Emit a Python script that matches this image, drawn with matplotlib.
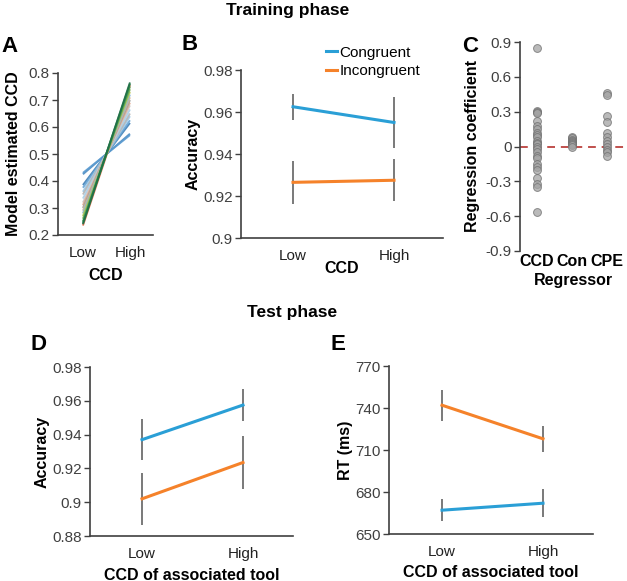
import numpy as np
import matplotlib
matplotlib.use("Agg")
import matplotlib.pyplot as plt

plt.rcParams["font.family"] = ["Liberation Sans", "DejaVu Sans"]
plt.rcParams["axes.unicode_minus"] = False

W, H = 627, 581

# ---------------- data ----------------
ccd_levels = ["Low", "High"]

# A: model estimated CCD per participant (low, high)
a_low = [0.425, 0.43, 0.385, 0.375, 0.36, 0.35, 0.335, 0.32, 0.31, 0.30, 0.29,
         0.28, 0.235, 0.27, 0.26, 0.25, 0.245, 0.24]
a_high = [0.575, 0.57, 0.615, 0.625, 0.64, 0.65, 0.665, 0.68, 0.69, 0.70, 0.71,
          0.72, 0.755, 0.73, 0.74, 0.75, 0.76, 0.765]
a_colors = ["#4f8cc0", "#5b9bd0", "#3f7fb5", "#6aa6d6", "#9cc8e6", "#b5b5b5",
            "#a9cfe8", "#c9c9c9", "#e3a98f", "#9f9f9f", "#d8b48e", "#86b6dc",
            "#e06a4a", "#bcc95c", "#7db25a", "#4fa14a", "#2f8a5a", "#1f6f45"]

# B: training accuracy
b_cong = [0.9625, 0.955]
b_cong_err = [0.0063, 0.012]
b_incong = [0.9265, 0.9275]
b_incong_err = [0.0103, 0.0101]

# C: regression coefficients
c_regressors = ["CCD", "Con", "CPE"]
c_ccd = [0.85, 0.31, 0.30, 0.29, 0.22, 0.18, 0.15, 0.12, 0.10, 0.08, 0.05, 0.03,
         0.02, 0.0, -0.02, -0.05, -0.08, -0.10, -0.15, -0.18, -0.20, -0.27,
         -0.32, -0.35, -0.56]
c_con = [0.08, 0.07, 0.06, 0.05, 0.04, 0.03, 0.02, 0.01, 0.0]
c_cpe = [0.46, 0.44, 0.26, 0.21, 0.12, 0.08, 0.05, 0.02, 0.0, -0.03, -0.05, -0.08]

# D: test accuracy
d_cong = [0.937, 0.9575]
d_cong_err = [0.012, 0.0095]
d_incong = [0.902, 0.9235]
d_incong_err = [0.0152, 0.0155]

# E: test RT
e_cong = [667, 672]
e_cong_err = [8, 10]
e_incong = [742, 718]
e_incong_err = [11, 9.5]

BLUE = "#2a9fd6"
ORANGE = "#f5822a"
ERR = "#555555"
SPINE = "#404040"
TICK = "#404040"

fig = plt.figure(figsize=(W / 100, H / 100), dpi=100)


def add_ax(left, top, right, bottom):
    return fig.add_axes([left / W, 1 - bottom / H, (right - left) / W, (bottom - top) / H])


def style(ax, yticks, xpad, ylabel, xlabel, ylab_x, xlab_y, fmt="%g"):
    for s in ["top", "right"]:
        ax.spines[s].set_visible(False)
    for s in ["left", "bottom"]:
        ax.spines[s].set_color(SPINE)
        ax.spines[s].set_linewidth(1.2)
    ax.set_yticks(yticks)
    ax.set_yticklabels([fmt % v for v in yticks])
    ax.tick_params(axis="y", length=4, width=1.0, color=SPINE, labelsize=11,
                   labelcolor=TICK, pad=2, direction="out")
    ax.tick_params(axis="x", length=0, labelsize=11, labelcolor="#222222", pad=xpad)
    ax.set_ylabel(ylabel, fontsize=11.5, fontweight="bold", va="center")
    ax.yaxis.set_label_coords(ylab_x, 0.5)
    ax.set_xlabel(xlabel, fontsize=11.5, fontweight="bold", va="center")
    ax.xaxis.set_label_coords(0.5, xlab_y)


x = np.arange(len(ccd_levels))

# ---- A ----
axA = add_ax(58, 73, 153, 235)
for lo, hi, col in zip(a_low, a_high, a_colors):
    axA.plot(x, [lo, hi], color=col, lw=1.4, alpha=0.9, solid_capstyle="butt")
axA.set_xlim(-0.53, 1.49)
axA.set_ylim(0.2, 0.8)
axA.set_xticks(x)
axA.set_xticklabels(ccd_levels)
style(axA, [0.2, 0.3, 0.4, 0.5, 0.6, 0.7, 0.8], 8, "Model estimated CCD", "CCD",
      -0.47, -0.25, fmt="%.1f")


def two_lines(ax, cong, cerr, incong, ierr):
    ax.errorbar(x, cong, yerr=cerr, color=BLUE, lw=2.2, ecolor=ERR, elinewidth=1.1,
                capsize=0, label="Congruent", zorder=3)
    ax.errorbar(x, incong, yerr=ierr, color=ORANGE, lw=2.2, ecolor=ERR, elinewidth=1.1,
                capsize=0, label="Incongruent", zorder=3)
    ax.set_xticks(x)
    ax.set_xticklabels(ccd_levels)


# ---- B ----
axB = add_ax(241, 70, 443, 238)
two_lines(axB, b_cong, b_cong_err, b_incong, b_incong_err)
axB.set_xlim(-0.515, 1.485)
axB.set_ylim(0.9, 0.98)
style(axB, [0.9, 0.92, 0.94, 0.96, 0.98], 8, "Accuracy", "CCD", -0.238, -0.18)
handles, labels = axB.get_legend_handles_labels()
handles = [h[0] for h in handles]
fig.legend(handles, labels, loc="center left", bbox_to_anchor=(318 / W, 1 - 62 / H),
           frameon=False, fontsize=11, handlelength=0.75, handletextpad=0.15,
           labelspacing=0.3, borderpad=0)

# ---- C ----
axC = add_ax(520, 42, 627, 251)
for i, vals in enumerate([c_ccd, c_con, c_cpe]):
    axC.scatter(np.full(len(vals), i), vals, s=32, facecolor="#a3a3a3",
                edgecolor="#6e6e6e", linewidth=0.7, alpha=0.75, zorder=3)
axC.axhline(0, color="#c0504d", lw=1.4, ls=(0, (4, 3)), zorder=2)
axC.set_xlim(-0.486, 2.57)
axC.set_ylim(-0.9, 0.9)
axC.set_xticks(np.arange(len(c_regressors)))
axC.set_xticklabels(c_regressors)
style(axC, [-0.9, -0.6, -0.3, 0, 0.3, 0.6, 0.9], 2, "Regression coefficient",
      "Regressor", -0.44, -0.14)
axC.spines["bottom"].set_visible(False)
for t in axC.get_xticklabels():
    t.set_fontweight("bold")
    t.set_fontsize(11.5)
    t.set_color("black")

# ---- D ----
axD = add_ax(90, 367, 293, 536)
two_lines(axD, d_cong, d_cong_err, d_incong, d_incong_err)
axD.set_xlim(-0.515, 1.495)
axD.set_ylim(0.88, 0.98)
style(axD, [0.88, 0.9, 0.92, 0.94, 0.96, 0.98], 8, "Accuracy",
      "CCD of associated tool", -0.236, -0.231)

# ---- E ----
axE = add_ax(389, 366, 593, 534)
two_lines(axE, e_cong, e_cong_err, e_incong, e_incong_err)
axE.set_xlim(-0.525, 1.495)
axE.set_ylim(650, 770)
style(axE, [650, 680, 710, 740, 770], 8, "RT (ms)",
      "CCD of associated tool", -0.211, -0.232)

# ---- titles and panel letters ----
fig.text(287.5 / W, 1 - 11 / H, "Training phase", ha="center", va="center",
         fontsize=12.5, fontweight="bold")
fig.text(292.5 / W, 1 - 312 / H, "Test phase", ha="center", va="center",
         fontsize=12.5, fontweight="bold")
for letter, px, py in [("A", 10, 46), ("B", 190, 45), ("C", 470, 47),
                       ("D", 39, 345), ("E", 338, 345)]:
    fig.text(px / W, 1 - py / H, letter, ha="center", va="center",
             fontsize=16, fontweight="bold")

fig.savefig("out.png", dpi=100)
